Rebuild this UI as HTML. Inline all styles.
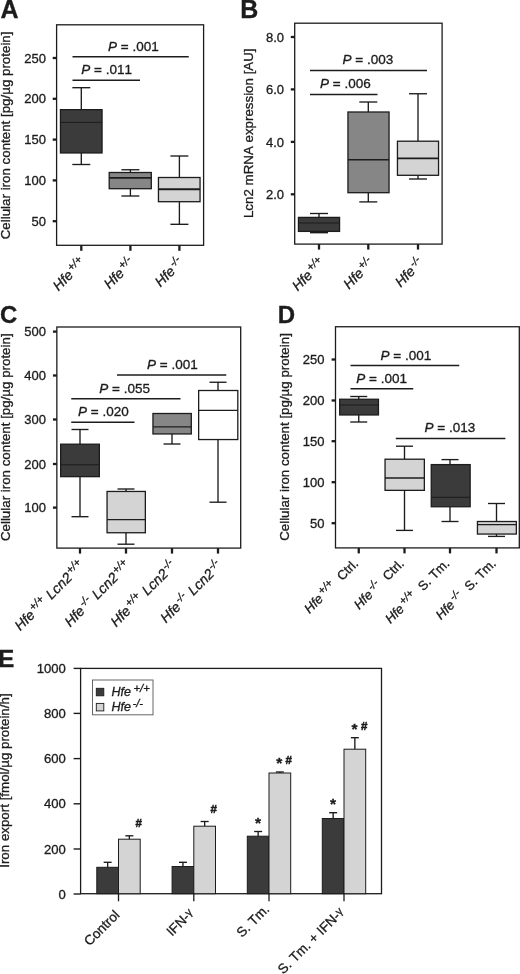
<!DOCTYPE html>
<html><head><meta charset="utf-8"><title>Figure</title>
<style>html,body{margin:0;padding:0;background:#fff;}svg{display:block;}text{font-kerning:none;font-family:'Liberation Sans', sans-serif;fill:#1c1c1c;stroke:#1c1c1c;stroke-width:0.32px;}</style>
</head><body>
<svg width="520" height="974" viewBox="0 0 520 974">
<rect width="520" height="974" fill="#fff"/>
<g style="opacity:0.999">
<text x="0.6" y="17.9" font-size="25" text-anchor="start" font-weight="bold" font-style="normal" >A</text>
<text x="240.3" y="17.9" font-size="25" text-anchor="start" font-weight="bold" font-style="normal" >B</text>
<text x="0.0" y="323.4" font-size="24" text-anchor="start" font-weight="bold" font-style="normal" >C</text>
<text x="277.8" y="323.4" font-size="24" text-anchor="start" font-weight="bold" font-style="normal" >D</text>
<text x="-2.0" y="666.7" font-size="24.5" text-anchor="start" font-weight="bold" font-style="normal" >E</text>
<rect x="56.6" y="24.8" width="147.0" height="220.5" fill="none" stroke="#1c1c1c" stroke-width="1.3"/>
<line x1="52.7" y1="58" x2="56.6" y2="58" stroke="#1c1c1c" stroke-width="2.3"/>
<text x="46" y="62.653999999999996" font-size="13.0" text-anchor="end" font-weight="normal" font-style="normal" >250</text>
<line x1="52.7" y1="98.8" x2="56.6" y2="98.8" stroke="#1c1c1c" stroke-width="2.3"/>
<text x="46" y="103.454" font-size="13.0" text-anchor="end" font-weight="normal" font-style="normal" >200</text>
<line x1="52.7" y1="139.6" x2="56.6" y2="139.6" stroke="#1c1c1c" stroke-width="2.3"/>
<text x="46" y="144.254" font-size="13.0" text-anchor="end" font-weight="normal" font-style="normal" >150</text>
<line x1="52.7" y1="180.4" x2="56.6" y2="180.4" stroke="#1c1c1c" stroke-width="2.3"/>
<text x="46" y="185.054" font-size="13.0" text-anchor="end" font-weight="normal" font-style="normal" >100</text>
<line x1="52.7" y1="221.2" x2="56.6" y2="221.2" stroke="#1c1c1c" stroke-width="2.3"/>
<text x="46" y="225.85399999999998" font-size="13.0" text-anchor="end" font-weight="normal" font-style="normal" >50</text>
<text transform="translate(10.4,135.4) rotate(-90)" font-size="13.33" text-anchor="middle">Cellular iron content [pg/µg protein]</text>
<line x1="81.3" y1="87.7" x2="81.3" y2="109.65" stroke="#1c1c1c" stroke-width="1.35"/>
<line x1="72.3" y1="87.7" x2="90.3" y2="87.7" stroke="#1c1c1c" stroke-width="1.35"/>
<line x1="81.3" y1="152.95" x2="81.3" y2="164.5" stroke="#1c1c1c" stroke-width="1.35"/>
<line x1="72.3" y1="164.5" x2="90.3" y2="164.5" stroke="#1c1c1c" stroke-width="1.35"/>
<rect x="60.45" y="109.65" width="41.60" height="43.30" fill="#3b3b3b" stroke="#1c1c1c" stroke-width="1.3"/>
<line x1="60.45" y1="122.4" x2="102.05" y2="122.4" stroke="#1c1c1c" stroke-width="1.0"/>
<line x1="130.4" y1="169.75" x2="130.4" y2="172.5" stroke="#1c1c1c" stroke-width="1.35"/>
<line x1="121.4" y1="169.75" x2="139.4" y2="169.75" stroke="#1c1c1c" stroke-width="1.35"/>
<line x1="130.4" y1="188.7" x2="130.4" y2="196" stroke="#1c1c1c" stroke-width="1.35"/>
<line x1="121.4" y1="196" x2="139.4" y2="196" stroke="#1c1c1c" stroke-width="1.35"/>
<rect x="109.20" y="172.50" width="42.10" height="16.20" fill="#868686" stroke="#1c1c1c" stroke-width="1.3"/>
<line x1="109.2" y1="177.8" x2="151.3" y2="177.8" stroke="#1c1c1c" stroke-width="1.7"/>
<line x1="179.4" y1="156" x2="179.4" y2="177.5" stroke="#1c1c1c" stroke-width="1.35"/>
<line x1="170.4" y1="156" x2="188.4" y2="156" stroke="#1c1c1c" stroke-width="1.35"/>
<line x1="179.4" y1="201.7" x2="179.4" y2="224.3" stroke="#1c1c1c" stroke-width="1.35"/>
<line x1="170.4" y1="224.3" x2="188.4" y2="224.3" stroke="#1c1c1c" stroke-width="1.35"/>
<rect x="158.45" y="177.50" width="41.60" height="24.20" fill="#d4d4d4" stroke="#1c1c1c" stroke-width="1.3"/>
<line x1="158.45" y1="189.25" x2="200.05" y2="189.25" stroke="#1c1c1c" stroke-width="1.8"/>
<line x1="72.5" y1="56.75" x2="188.75" y2="56.75" stroke="#1c1c1c" stroke-width="1.5"/>
<text x="108" y="50.75" font-size="13.5"><tspan font-style="italic">P</tspan> = .001</text>
<line x1="72.5" y1="80.25" x2="140" y2="80.25" stroke="#1c1c1c" stroke-width="1.5"/>
<text x="81.25" y="74.25" font-size="13.5"><tspan font-style="italic">P</tspan> = .011</text>
<line x1="81.3" y1="245.3" x2="81.3" y2="250.8" stroke="#1c1c1c" stroke-width="2.3"/>
<text transform="translate(86.3,263.8) rotate(-45)" font-size="14" text-anchor="end"><tspan font-style="italic">Hfe</tspan><tspan font-style="italic" font-size="11" dx="1.5" dy="-5">+/+</tspan></text>
<line x1="130.4" y1="245.3" x2="130.4" y2="250.8" stroke="#1c1c1c" stroke-width="2.3"/>
<text transform="translate(135.4,263.8) rotate(-45)" font-size="14" text-anchor="end"><tspan font-style="italic">Hfe</tspan><tspan font-style="italic" font-size="11" dx="1.5" dy="-5">+/-</tspan></text>
<line x1="179.4" y1="245.3" x2="179.4" y2="250.8" stroke="#1c1c1c" stroke-width="2.3"/>
<text transform="translate(184.4,263.8) rotate(-45)" font-size="14" text-anchor="end"><tspan font-style="italic">Hfe</tspan><tspan font-style="italic" font-size="11" dx="1.5" dy="-5">-/-</tspan></text>
<rect x="294.7" y="23.2" width="147.40000000000003" height="220.9" fill="none" stroke="#1c1c1c" stroke-width="1.3"/>
<line x1="290.8" y1="37" x2="294.7" y2="37" stroke="#1c1c1c" stroke-width="2.3"/>
<text x="284" y="41.653999999999996" font-size="13.0" text-anchor="end" font-weight="normal" font-style="normal" >8.0</text>
<line x1="290.8" y1="89.4" x2="294.7" y2="89.4" stroke="#1c1c1c" stroke-width="2.3"/>
<text x="284" y="94.054" font-size="13.0" text-anchor="end" font-weight="normal" font-style="normal" >6.0</text>
<line x1="290.8" y1="141.9" x2="294.7" y2="141.9" stroke="#1c1c1c" stroke-width="2.3"/>
<text x="284" y="146.554" font-size="13.0" text-anchor="end" font-weight="normal" font-style="normal" >4.0</text>
<line x1="290.8" y1="194.3" x2="294.7" y2="194.3" stroke="#1c1c1c" stroke-width="2.3"/>
<text x="284" y="198.954" font-size="13.0" text-anchor="end" font-weight="normal" font-style="normal" >2.0</text>
<text transform="translate(252.7,133.25) rotate(-90)" font-size="13.33" text-anchor="middle">Lcn2 mRNA expression [AU]</text>
<line x1="319" y1="213.5" x2="319" y2="217.4" stroke="#1c1c1c" stroke-width="1.35"/>
<line x1="310" y1="213.5" x2="328" y2="213.5" stroke="#1c1c1c" stroke-width="1.35"/>
<line x1="319" y1="231.4" x2="319" y2="232.7" stroke="#1c1c1c" stroke-width="1.35"/>
<line x1="310" y1="232.7" x2="328" y2="232.7" stroke="#1c1c1c" stroke-width="1.35"/>
<rect x="298.45" y="217.40" width="41.10" height="14.00" fill="#3b3b3b" stroke="#1c1c1c" stroke-width="1.3"/>
<line x1="298.45" y1="223" x2="339.55" y2="223" stroke="#1c1c1c" stroke-width="1.0"/>
<line x1="368.3" y1="102" x2="368.3" y2="112" stroke="#1c1c1c" stroke-width="1.35"/>
<line x1="359.3" y1="102" x2="377.3" y2="102" stroke="#1c1c1c" stroke-width="1.35"/>
<line x1="368.3" y1="192.7" x2="368.3" y2="201.9" stroke="#1c1c1c" stroke-width="1.35"/>
<line x1="359.3" y1="201.9" x2="377.3" y2="201.9" stroke="#1c1c1c" stroke-width="1.35"/>
<rect x="347.95" y="112.00" width="41.10" height="80.70" fill="#868686" stroke="#1c1c1c" stroke-width="1.3"/>
<line x1="347.95" y1="159.7" x2="389.05" y2="159.7" stroke="#1c1c1c" stroke-width="1.6"/>
<line x1="418" y1="93.75" x2="418" y2="141.2" stroke="#1c1c1c" stroke-width="1.35"/>
<line x1="409" y1="93.75" x2="427" y2="93.75" stroke="#1c1c1c" stroke-width="1.35"/>
<line x1="418" y1="175.3" x2="418" y2="179" stroke="#1c1c1c" stroke-width="1.35"/>
<line x1="409" y1="179" x2="427" y2="179" stroke="#1c1c1c" stroke-width="1.35"/>
<rect x="397.45" y="141.20" width="41.10" height="34.10" fill="#d4d4d4" stroke="#1c1c1c" stroke-width="1.3"/>
<line x1="397.45" y1="158.4" x2="438.55" y2="158.4" stroke="#1c1c1c" stroke-width="1.6"/>
<line x1="310" y1="70.5" x2="427" y2="70.5" stroke="#1c1c1c" stroke-width="1.5"/>
<text x="342.5" y="64.25" font-size="13.5"><tspan font-style="italic">P</tspan> = .003</text>
<line x1="310" y1="94.6" x2="377.5" y2="94.6" stroke="#1c1c1c" stroke-width="1.5"/>
<text x="320" y="88.25" font-size="13.5"><tspan font-style="italic">P</tspan> = .006</text>
<line x1="319" y1="244.1" x2="319" y2="249.6" stroke="#1c1c1c" stroke-width="2.3"/>
<text transform="translate(325.5,263.9) rotate(-45)" font-size="14" text-anchor="end"><tspan font-style="italic">Hfe</tspan><tspan font-style="italic" font-size="11" dx="1.5" dy="-5">+/+</tspan></text>
<line x1="368.3" y1="244.1" x2="368.3" y2="249.6" stroke="#1c1c1c" stroke-width="2.3"/>
<text transform="translate(374.8,263.9) rotate(-45)" font-size="14" text-anchor="end"><tspan font-style="italic">Hfe</tspan><tspan font-style="italic" font-size="11" dx="1.5" dy="-5">+/-</tspan></text>
<line x1="418" y1="244.1" x2="418" y2="249.6" stroke="#1c1c1c" stroke-width="2.3"/>
<text transform="translate(424.5,263.9) rotate(-45)" font-size="14" text-anchor="end"><tspan font-style="italic">Hfe</tspan><tspan font-style="italic" font-size="11" dx="1.5" dy="-5">-/-</tspan></text>
<rect x="56.85" y="327" width="183.85" height="221.10000000000002" fill="none" stroke="#1c1c1c" stroke-width="1.3"/>
<line x1="52.95" y1="331.6" x2="56.85" y2="331.6" stroke="#1c1c1c" stroke-width="2.3"/>
<text x="46" y="336.254" font-size="13.0" text-anchor="end" font-weight="normal" font-style="normal" >500</text>
<line x1="52.95" y1="375.5" x2="56.85" y2="375.5" stroke="#1c1c1c" stroke-width="2.3"/>
<text x="46" y="380.154" font-size="13.0" text-anchor="end" font-weight="normal" font-style="normal" >400</text>
<line x1="52.95" y1="419.5" x2="56.85" y2="419.5" stroke="#1c1c1c" stroke-width="2.3"/>
<text x="46" y="424.154" font-size="13.0" text-anchor="end" font-weight="normal" font-style="normal" >300</text>
<line x1="52.95" y1="464" x2="56.85" y2="464" stroke="#1c1c1c" stroke-width="2.3"/>
<text x="46" y="468.654" font-size="13.0" text-anchor="end" font-weight="normal" font-style="normal" >200</text>
<line x1="52.95" y1="507.6" x2="56.85" y2="507.6" stroke="#1c1c1c" stroke-width="2.3"/>
<text x="46" y="512.254" font-size="13.0" text-anchor="end" font-weight="normal" font-style="normal" >100</text>
<text transform="translate(9.9,437.25) rotate(-90)" font-size="13.33" text-anchor="middle">Cellular iron content [pg/µg protein]</text>
<line x1="80" y1="429.5" x2="80" y2="444.2" stroke="#1c1c1c" stroke-width="1.35"/>
<line x1="71.5" y1="429.5" x2="88.5" y2="429.5" stroke="#1c1c1c" stroke-width="1.35"/>
<line x1="80" y1="476.65" x2="80" y2="516.7" stroke="#1c1c1c" stroke-width="1.35"/>
<line x1="71.5" y1="516.7" x2="88.5" y2="516.7" stroke="#1c1c1c" stroke-width="1.35"/>
<rect x="60.65" y="444.20" width="38.70" height="32.45" fill="#3b3b3b" stroke="#1c1c1c" stroke-width="1.3"/>
<line x1="60.650000000000006" y1="464.8" x2="99.35" y2="464.8" stroke="#1c1c1c" stroke-width="1.0"/>
<line x1="126" y1="489" x2="126" y2="491.45" stroke="#1c1c1c" stroke-width="1.35"/>
<line x1="117.5" y1="489" x2="134.5" y2="489" stroke="#1c1c1c" stroke-width="1.35"/>
<line x1="126" y1="532.75" x2="126" y2="544.2" stroke="#1c1c1c" stroke-width="1.35"/>
<line x1="117.5" y1="544.2" x2="134.5" y2="544.2" stroke="#1c1c1c" stroke-width="1.35"/>
<rect x="107.05" y="491.45" width="38.30" height="41.30" fill="#d4d4d4" stroke="#1c1c1c" stroke-width="1.3"/>
<line x1="107.05" y1="519.6" x2="145.35000000000002" y2="519.6" stroke="#1c1c1c" stroke-width="1.3"/>
<line x1="172" y1="433.95" x2="172" y2="444" stroke="#1c1c1c" stroke-width="1.35"/>
<line x1="163.5" y1="444" x2="180.5" y2="444" stroke="#1c1c1c" stroke-width="1.35"/>
<rect x="152.95" y="413.50" width="38.35" height="20.45" fill="#868686" stroke="#1c1c1c" stroke-width="1.3"/>
<line x1="152.95" y1="426.9" x2="191.3" y2="426.9" stroke="#1c1c1c" stroke-width="1.3"/>
<line x1="218" y1="382.25" x2="218" y2="390.5" stroke="#1c1c1c" stroke-width="1.35"/>
<line x1="209.5" y1="382.25" x2="226.5" y2="382.25" stroke="#1c1c1c" stroke-width="1.35"/>
<line x1="218" y1="439.55" x2="218" y2="502.2" stroke="#1c1c1c" stroke-width="1.35"/>
<line x1="209.5" y1="502.2" x2="226.5" y2="502.2" stroke="#1c1c1c" stroke-width="1.35"/>
<rect x="198.65" y="390.50" width="39.15" height="49.05" fill="#ffffff" stroke="#1c1c1c" stroke-width="1.3"/>
<line x1="198.64999999999998" y1="410.3" x2="237.8" y2="410.3" stroke="#1c1c1c" stroke-width="1.2"/>
<line x1="117" y1="375" x2="226.25" y2="375" stroke="#1c1c1c" stroke-width="1.5"/>
<text x="147" y="368.75" font-size="13.5"><tspan font-style="italic">P</tspan> = .001</text>
<line x1="71.25" y1="398.7" x2="180.5" y2="398.7" stroke="#1c1c1c" stroke-width="1.5"/>
<text x="99.25" y="392.75" font-size="13.5"><tspan font-style="italic">P</tspan> = .055</text>
<line x1="71.25" y1="422.25" x2="134.5" y2="422.25" stroke="#1c1c1c" stroke-width="1.5"/>
<text x="78" y="416.25" font-size="13.5"><tspan font-style="italic">P</tspan> = .020</text>
<line x1="80" y1="548.1" x2="80" y2="553.6" stroke="#1c1c1c" stroke-width="2.3"/>
<text transform="translate(85,566.6) rotate(-45)" font-size="14" text-anchor="end"><tspan font-style="italic">Hfe</tspan><tspan font-style="italic" font-size="11" dx="1.5" dy="-5">+/+</tspan><tspan font-style="italic" dy="5" dx="5">Lcn2</tspan><tspan font-style="italic" font-size="11" dx="1" dy="-5">+/+</tspan></text>
<line x1="126" y1="548.1" x2="126" y2="553.6" stroke="#1c1c1c" stroke-width="2.3"/>
<text transform="translate(131,566.6) rotate(-45)" font-size="14" text-anchor="end"><tspan font-style="italic">Hfe</tspan><tspan font-style="italic" font-size="11" dx="1.5" dy="-5">-/-</tspan><tspan font-style="italic" dy="5" dx="5">Lcn2</tspan><tspan font-style="italic" font-size="11" dx="1" dy="-5">+/+</tspan></text>
<line x1="172" y1="548.1" x2="172" y2="553.6" stroke="#1c1c1c" stroke-width="2.3"/>
<text transform="translate(177,566.6) rotate(-45)" font-size="14" text-anchor="end"><tspan font-style="italic">Hfe</tspan><tspan font-style="italic" font-size="11" dx="1.5" dy="-5">+/+</tspan><tspan font-style="italic" dy="5" dx="5">Lcn2</tspan><tspan font-style="italic" font-size="11" dx="1" dy="-5">-/-</tspan></text>
<line x1="218" y1="548.1" x2="218" y2="553.6" stroke="#1c1c1c" stroke-width="2.3"/>
<text transform="translate(223,566.6) rotate(-45)" font-size="14" text-anchor="end"><tspan font-style="italic">Hfe</tspan><tspan font-style="italic" font-size="11" dx="1.5" dy="-5">-/-</tspan><tspan font-style="italic" dy="5" dx="5">Lcn2</tspan><tspan font-style="italic" font-size="11" dx="1" dy="-5">-/-</tspan></text>
<rect x="335.5" y="326.75" width="183.79999999999995" height="221.14999999999998" fill="none" stroke="#1c1c1c" stroke-width="1.3"/>
<line x1="331.6" y1="359.5" x2="335.5" y2="359.5" stroke="#1c1c1c" stroke-width="2.3"/>
<text x="324.5" y="364.154" font-size="13.0" text-anchor="end" font-weight="normal" font-style="normal" >250</text>
<line x1="331.6" y1="400.5" x2="335.5" y2="400.5" stroke="#1c1c1c" stroke-width="2.3"/>
<text x="324.5" y="405.154" font-size="13.0" text-anchor="end" font-weight="normal" font-style="normal" >200</text>
<line x1="331.6" y1="441.2" x2="335.5" y2="441.2" stroke="#1c1c1c" stroke-width="2.3"/>
<text x="324.5" y="445.854" font-size="13.0" text-anchor="end" font-weight="normal" font-style="normal" >150</text>
<line x1="331.6" y1="482.2" x2="335.5" y2="482.2" stroke="#1c1c1c" stroke-width="2.3"/>
<text x="324.5" y="486.854" font-size="13.0" text-anchor="end" font-weight="normal" font-style="normal" >100</text>
<line x1="331.6" y1="523.2" x2="335.5" y2="523.2" stroke="#1c1c1c" stroke-width="2.3"/>
<text x="324.5" y="527.854" font-size="13.0" text-anchor="end" font-weight="normal" font-style="normal" >50</text>
<text transform="translate(288.5,437) rotate(-90)" font-size="13.33" text-anchor="middle">Cellular iron content [pg/µg protein]</text>
<line x1="358.75" y1="396.5" x2="358.75" y2="399.25" stroke="#1c1c1c" stroke-width="1.35"/>
<line x1="350.25" y1="396.5" x2="367.25" y2="396.5" stroke="#1c1c1c" stroke-width="1.35"/>
<line x1="358.75" y1="414.95" x2="358.75" y2="422" stroke="#1c1c1c" stroke-width="1.35"/>
<line x1="350.25" y1="422" x2="367.25" y2="422" stroke="#1c1c1c" stroke-width="1.35"/>
<rect x="339.70" y="399.25" width="38.75" height="15.70" fill="#3b3b3b" stroke="#1c1c1c" stroke-width="1.3"/>
<line x1="339.7" y1="405" x2="378.45" y2="405" stroke="#1c1c1c" stroke-width="1.0"/>
<line x1="404.5" y1="446.2" x2="404.5" y2="459.2" stroke="#1c1c1c" stroke-width="1.35"/>
<line x1="396.0" y1="446.2" x2="413.0" y2="446.2" stroke="#1c1c1c" stroke-width="1.35"/>
<line x1="404.5" y1="490.35" x2="404.5" y2="530.4" stroke="#1c1c1c" stroke-width="1.35"/>
<line x1="396.0" y1="530.4" x2="413.0" y2="530.4" stroke="#1c1c1c" stroke-width="1.35"/>
<rect x="385.05" y="459.20" width="39.30" height="31.15" fill="#d4d4d4" stroke="#1c1c1c" stroke-width="1.3"/>
<line x1="385.05" y1="478" x2="424.35" y2="478" stroke="#1c1c1c" stroke-width="1.3"/>
<line x1="450" y1="459.6" x2="450" y2="464.6" stroke="#1c1c1c" stroke-width="1.35"/>
<line x1="441.5" y1="459.6" x2="458.5" y2="459.6" stroke="#1c1c1c" stroke-width="1.35"/>
<line x1="450" y1="506.75" x2="450" y2="521.5" stroke="#1c1c1c" stroke-width="1.35"/>
<line x1="441.5" y1="521.5" x2="458.5" y2="521.5" stroke="#1c1c1c" stroke-width="1.35"/>
<rect x="431.25" y="464.60" width="38.90" height="42.15" fill="#3b3b3b" stroke="#1c1c1c" stroke-width="1.3"/>
<line x1="431.25" y1="497.3" x2="470.15000000000003" y2="497.3" stroke="#1c1c1c" stroke-width="1.0"/>
<line x1="496.5" y1="503.5" x2="496.5" y2="521.5" stroke="#1c1c1c" stroke-width="1.35"/>
<line x1="488.0" y1="503.5" x2="505.0" y2="503.5" stroke="#1c1c1c" stroke-width="1.35"/>
<line x1="496.5" y1="534.05" x2="496.5" y2="536.4" stroke="#1c1c1c" stroke-width="1.35"/>
<line x1="488.0" y1="536.4" x2="505.0" y2="536.4" stroke="#1c1c1c" stroke-width="1.35"/>
<rect x="477.45" y="521.50" width="38.90" height="12.55" fill="#d4d4d4" stroke="#1c1c1c" stroke-width="1.3"/>
<line x1="477.45" y1="524.6" x2="516.3499999999999" y2="524.6" stroke="#1c1c1c" stroke-width="1.3"/>
<line x1="350.5" y1="365.5" x2="459.25" y2="365.5" stroke="#1c1c1c" stroke-width="1.5"/>
<text x="380.5" y="359.5" font-size="13.5"><tspan font-style="italic">P</tspan> = .001</text>
<line x1="350.5" y1="388.75" x2="413.25" y2="388.75" stroke="#1c1c1c" stroke-width="1.5"/>
<text x="356.25" y="383" font-size="13.5"><tspan font-style="italic">P</tspan> = .001</text>
<line x1="395.8" y1="438.5" x2="505.4" y2="438.5" stroke="#1c1c1c" stroke-width="1.5"/>
<text x="424.6" y="431.5" font-size="13.5"><tspan font-style="italic">P</tspan> = .013</text>
<line x1="358.75" y1="547.9" x2="358.75" y2="553.4" stroke="#1c1c1c" stroke-width="2.3"/>
<text transform="translate(359.05,564.4) rotate(-45)" font-size="13" text-anchor="end"><tspan font-style="italic">Hfe</tspan><tspan font-style="italic" font-size="11" dx="2" dy="-4.5">+/+</tspan><tspan dy="4.5" dx="8">Ctrl.</tspan></text>
<line x1="404.5" y1="547.9" x2="404.5" y2="553.4" stroke="#1c1c1c" stroke-width="2.3"/>
<text transform="translate(404.8,564.4) rotate(-45)" font-size="13" text-anchor="end"><tspan font-style="italic">Hfe</tspan><tspan font-style="italic" font-size="11" dx="2" dy="-4.5">-/-</tspan><tspan dy="4.5" dx="8">Ctrl.</tspan></text>
<line x1="450" y1="547.9" x2="450" y2="553.4" stroke="#1c1c1c" stroke-width="2.3"/>
<text transform="translate(450.3,564.4) rotate(-45)" font-size="13" text-anchor="end"><tspan font-style="italic">Hfe</tspan><tspan font-style="italic" font-size="11" dx="2" dy="-4.5">+/+</tspan><tspan dy="4.5" dx="8">S. Tm.</tspan></text>
<line x1="496.5" y1="547.9" x2="496.5" y2="553.4" stroke="#1c1c1c" stroke-width="2.3"/>
<text transform="translate(496.8,564.4) rotate(-45)" font-size="13" text-anchor="end"><tspan font-style="italic">Hfe</tspan><tspan font-style="italic" font-size="11" dx="2" dy="-4.5">-/-</tspan><tspan dy="4.5" dx="8">S. Tm.</tspan></text>
<rect x="80.6" y="668.4" width="300.9" height="225.30000000000007" fill="none" stroke="#1c1c1c" stroke-width="1.3"/>
<line x1="73.6" y1="668.4" x2="80.6" y2="668.4" stroke="#1c1c1c" stroke-width="1.4"/>
<text x="65.9" y="673.0898" font-size="13.1" text-anchor="end" font-weight="normal" font-style="normal" >1000</text>
<line x1="73.6" y1="713.4" x2="80.6" y2="713.4" stroke="#1c1c1c" stroke-width="1.4"/>
<text x="65.9" y="718.0898" font-size="13.1" text-anchor="end" font-weight="normal" font-style="normal" >800</text>
<line x1="73.6" y1="758.6" x2="80.6" y2="758.6" stroke="#1c1c1c" stroke-width="1.4"/>
<text x="65.9" y="763.2898" font-size="13.1" text-anchor="end" font-weight="normal" font-style="normal" >600</text>
<line x1="73.6" y1="803.8" x2="80.6" y2="803.8" stroke="#1c1c1c" stroke-width="1.4"/>
<text x="65.9" y="808.4898" font-size="13.1" text-anchor="end" font-weight="normal" font-style="normal" >400</text>
<line x1="73.6" y1="849" x2="80.6" y2="849" stroke="#1c1c1c" stroke-width="1.4"/>
<text x="65.9" y="853.6898" font-size="13.1" text-anchor="end" font-weight="normal" font-style="normal" >200</text>
<line x1="73.6" y1="894" x2="80.6" y2="894" stroke="#1c1c1c" stroke-width="1.4"/>
<text x="65.9" y="898.6898" font-size="13.1" text-anchor="end" font-weight="normal" font-style="normal" >0</text>
<text transform="translate(9.4,780.6) rotate(-90)" font-size="13.33" text-anchor="middle">Iron export [fmol/µg protein/h]</text>
<line x1="107.65" y1="862.3" x2="107.65" y2="867.3" stroke="#1c1c1c" stroke-width="1.35"/>
<line x1="103.65" y1="862.3" x2="111.65" y2="862.3" stroke="#1c1c1c" stroke-width="1.35"/>
<line x1="129.35" y1="835.8" x2="129.35" y2="839.2" stroke="#1c1c1c" stroke-width="1.35"/>
<line x1="125.35" y1="835.8" x2="133.35" y2="835.8" stroke="#1c1c1c" stroke-width="1.35"/>
<rect x="96.8" y="867.3" width="21.7" height="26.40000000000009" fill="#3b3b3b" stroke="#1c1c1c" stroke-width="1"/>
<rect x="118.5" y="839.2" width="21.7" height="54.5" fill="#d4d4d4" stroke="#1c1c1c" stroke-width="1"/>
<line x1="118.5" y1="893.7" x2="118.5" y2="901.3000000000001" stroke="#1c1c1c" stroke-width="1.3"/>
<line x1="182.95000000000002" y1="862.3" x2="182.95000000000002" y2="866.5" stroke="#1c1c1c" stroke-width="1.35"/>
<line x1="178.95000000000002" y1="862.3" x2="186.95000000000002" y2="862.3" stroke="#1c1c1c" stroke-width="1.35"/>
<line x1="204.65" y1="821.5" x2="204.65" y2="826.2" stroke="#1c1c1c" stroke-width="1.35"/>
<line x1="200.65" y1="821.5" x2="208.65" y2="821.5" stroke="#1c1c1c" stroke-width="1.35"/>
<rect x="172.10000000000002" y="866.5" width="21.7" height="27.200000000000045" fill="#3b3b3b" stroke="#1c1c1c" stroke-width="1"/>
<rect x="193.8" y="826.2" width="21.7" height="67.5" fill="#d4d4d4" stroke="#1c1c1c" stroke-width="1"/>
<line x1="193.8" y1="893.7" x2="193.8" y2="901.3000000000001" stroke="#1c1c1c" stroke-width="1.3"/>
<line x1="258.15" y1="831.5" x2="258.15" y2="836.2" stroke="#1c1c1c" stroke-width="1.35"/>
<line x1="254.14999999999998" y1="831.5" x2="262.15" y2="831.5" stroke="#1c1c1c" stroke-width="1.35"/>
<line x1="279.85" y1="772" x2="279.85" y2="773" stroke="#1c1c1c" stroke-width="1.35"/>
<line x1="275.85" y1="772" x2="283.85" y2="772" stroke="#1c1c1c" stroke-width="1.35"/>
<rect x="247.3" y="836.2" width="21.7" height="57.5" fill="#3b3b3b" stroke="#1c1c1c" stroke-width="1"/>
<rect x="269" y="773" width="21.7" height="120.70000000000005" fill="#d4d4d4" stroke="#1c1c1c" stroke-width="1"/>
<line x1="269" y1="893.7" x2="269" y2="901.3000000000001" stroke="#1c1c1c" stroke-width="1.3"/>
<line x1="333.15" y1="812.7" x2="333.15" y2="818.5" stroke="#1c1c1c" stroke-width="1.35"/>
<line x1="329.15" y1="812.7" x2="337.15" y2="812.7" stroke="#1c1c1c" stroke-width="1.35"/>
<line x1="354.85" y1="737.7" x2="354.85" y2="749.2" stroke="#1c1c1c" stroke-width="1.35"/>
<line x1="350.85" y1="737.7" x2="358.85" y2="737.7" stroke="#1c1c1c" stroke-width="1.35"/>
<rect x="322.3" y="818.5" width="21.7" height="75.20000000000005" fill="#3b3b3b" stroke="#1c1c1c" stroke-width="1"/>
<rect x="344" y="749.2" width="21.7" height="144.5" fill="#d4d4d4" stroke="#1c1c1c" stroke-width="1"/>
<line x1="344" y1="893.7" x2="344" y2="901.3000000000001" stroke="#1c1c1c" stroke-width="1.3"/>
<rect x="92.5" y="680" width="60.5" height="34.8" fill="#fff" stroke="#666" stroke-width="1"/>
<rect x="96.3" y="688.3" width="7.5" height="7.5" fill="#3b3b3b" stroke="#1c1c1c" stroke-width="0.9"/>
<rect x="96.3" y="703.4" width="7.5" height="7.5" fill="#d4d4d4" stroke="#1c1c1c" stroke-width="0.9"/>
<text x="111.5" y="696" font-size="12.5"><tspan font-style="italic">Hfe</tspan><tspan font-style="italic" font-size="11.3" dx="2.5" dy="-3.6">+/+</tspan></text>
<text x="111.5" y="710.8" font-size="12.5"><tspan font-style="italic">Hfe</tspan><tspan font-style="italic" font-size="11.3" dx="1.5" dy="-3.6">-/-</tspan></text>
<text x="138.8" y="826.8" font-size="11.5" text-anchor="middle" font-weight="bold" font-style="normal" style="stroke-width:0.5px">#</text>
<text x="213.8" y="813.3" font-size="11.5" text-anchor="middle" font-weight="bold" font-style="normal" style="stroke-width:0.5px">#</text>
<text x="258" y="827.7" font-size="15.5" text-anchor="middle" font-weight="bold" font-style="normal" >*</text>
<text x="279.2" y="768.2" font-size="15.5" text-anchor="middle" font-weight="bold" font-style="normal" >*</text>
<text x="288.7" y="763.7" font-size="11.5" text-anchor="middle" font-weight="bold" font-style="normal" style="stroke-width:0.5px">#</text>
<text x="333" y="809" font-size="15.5" text-anchor="middle" font-weight="bold" font-style="normal" >*</text>
<text x="354.6" y="733.7" font-size="15.5" text-anchor="middle" font-weight="bold" font-style="normal" >*</text>
<text x="364.1" y="729.8" font-size="11.5" text-anchor="middle" font-weight="bold" font-style="normal" style="stroke-width:0.5px">#</text>
<text transform="translate(120.35,915.8) rotate(-45)" font-size="13.5" text-anchor="end">Control</text>
<text transform="translate(194.4,914.4) rotate(-45)" font-size="13.5" text-anchor="end">IFN-<tspan font-size="11" dy="-2">γ</tspan></text>
<text transform="translate(270.2,910) rotate(-45)" font-size="13.5" text-anchor="end">S. Tm.</text>
<text transform="translate(344.8,913.3) rotate(-45)" font-size="13.5" text-anchor="end">S. Tm. + IFN-<tspan font-size="11" dy="-2">γ</tspan></text>
</g></svg></body></html>
